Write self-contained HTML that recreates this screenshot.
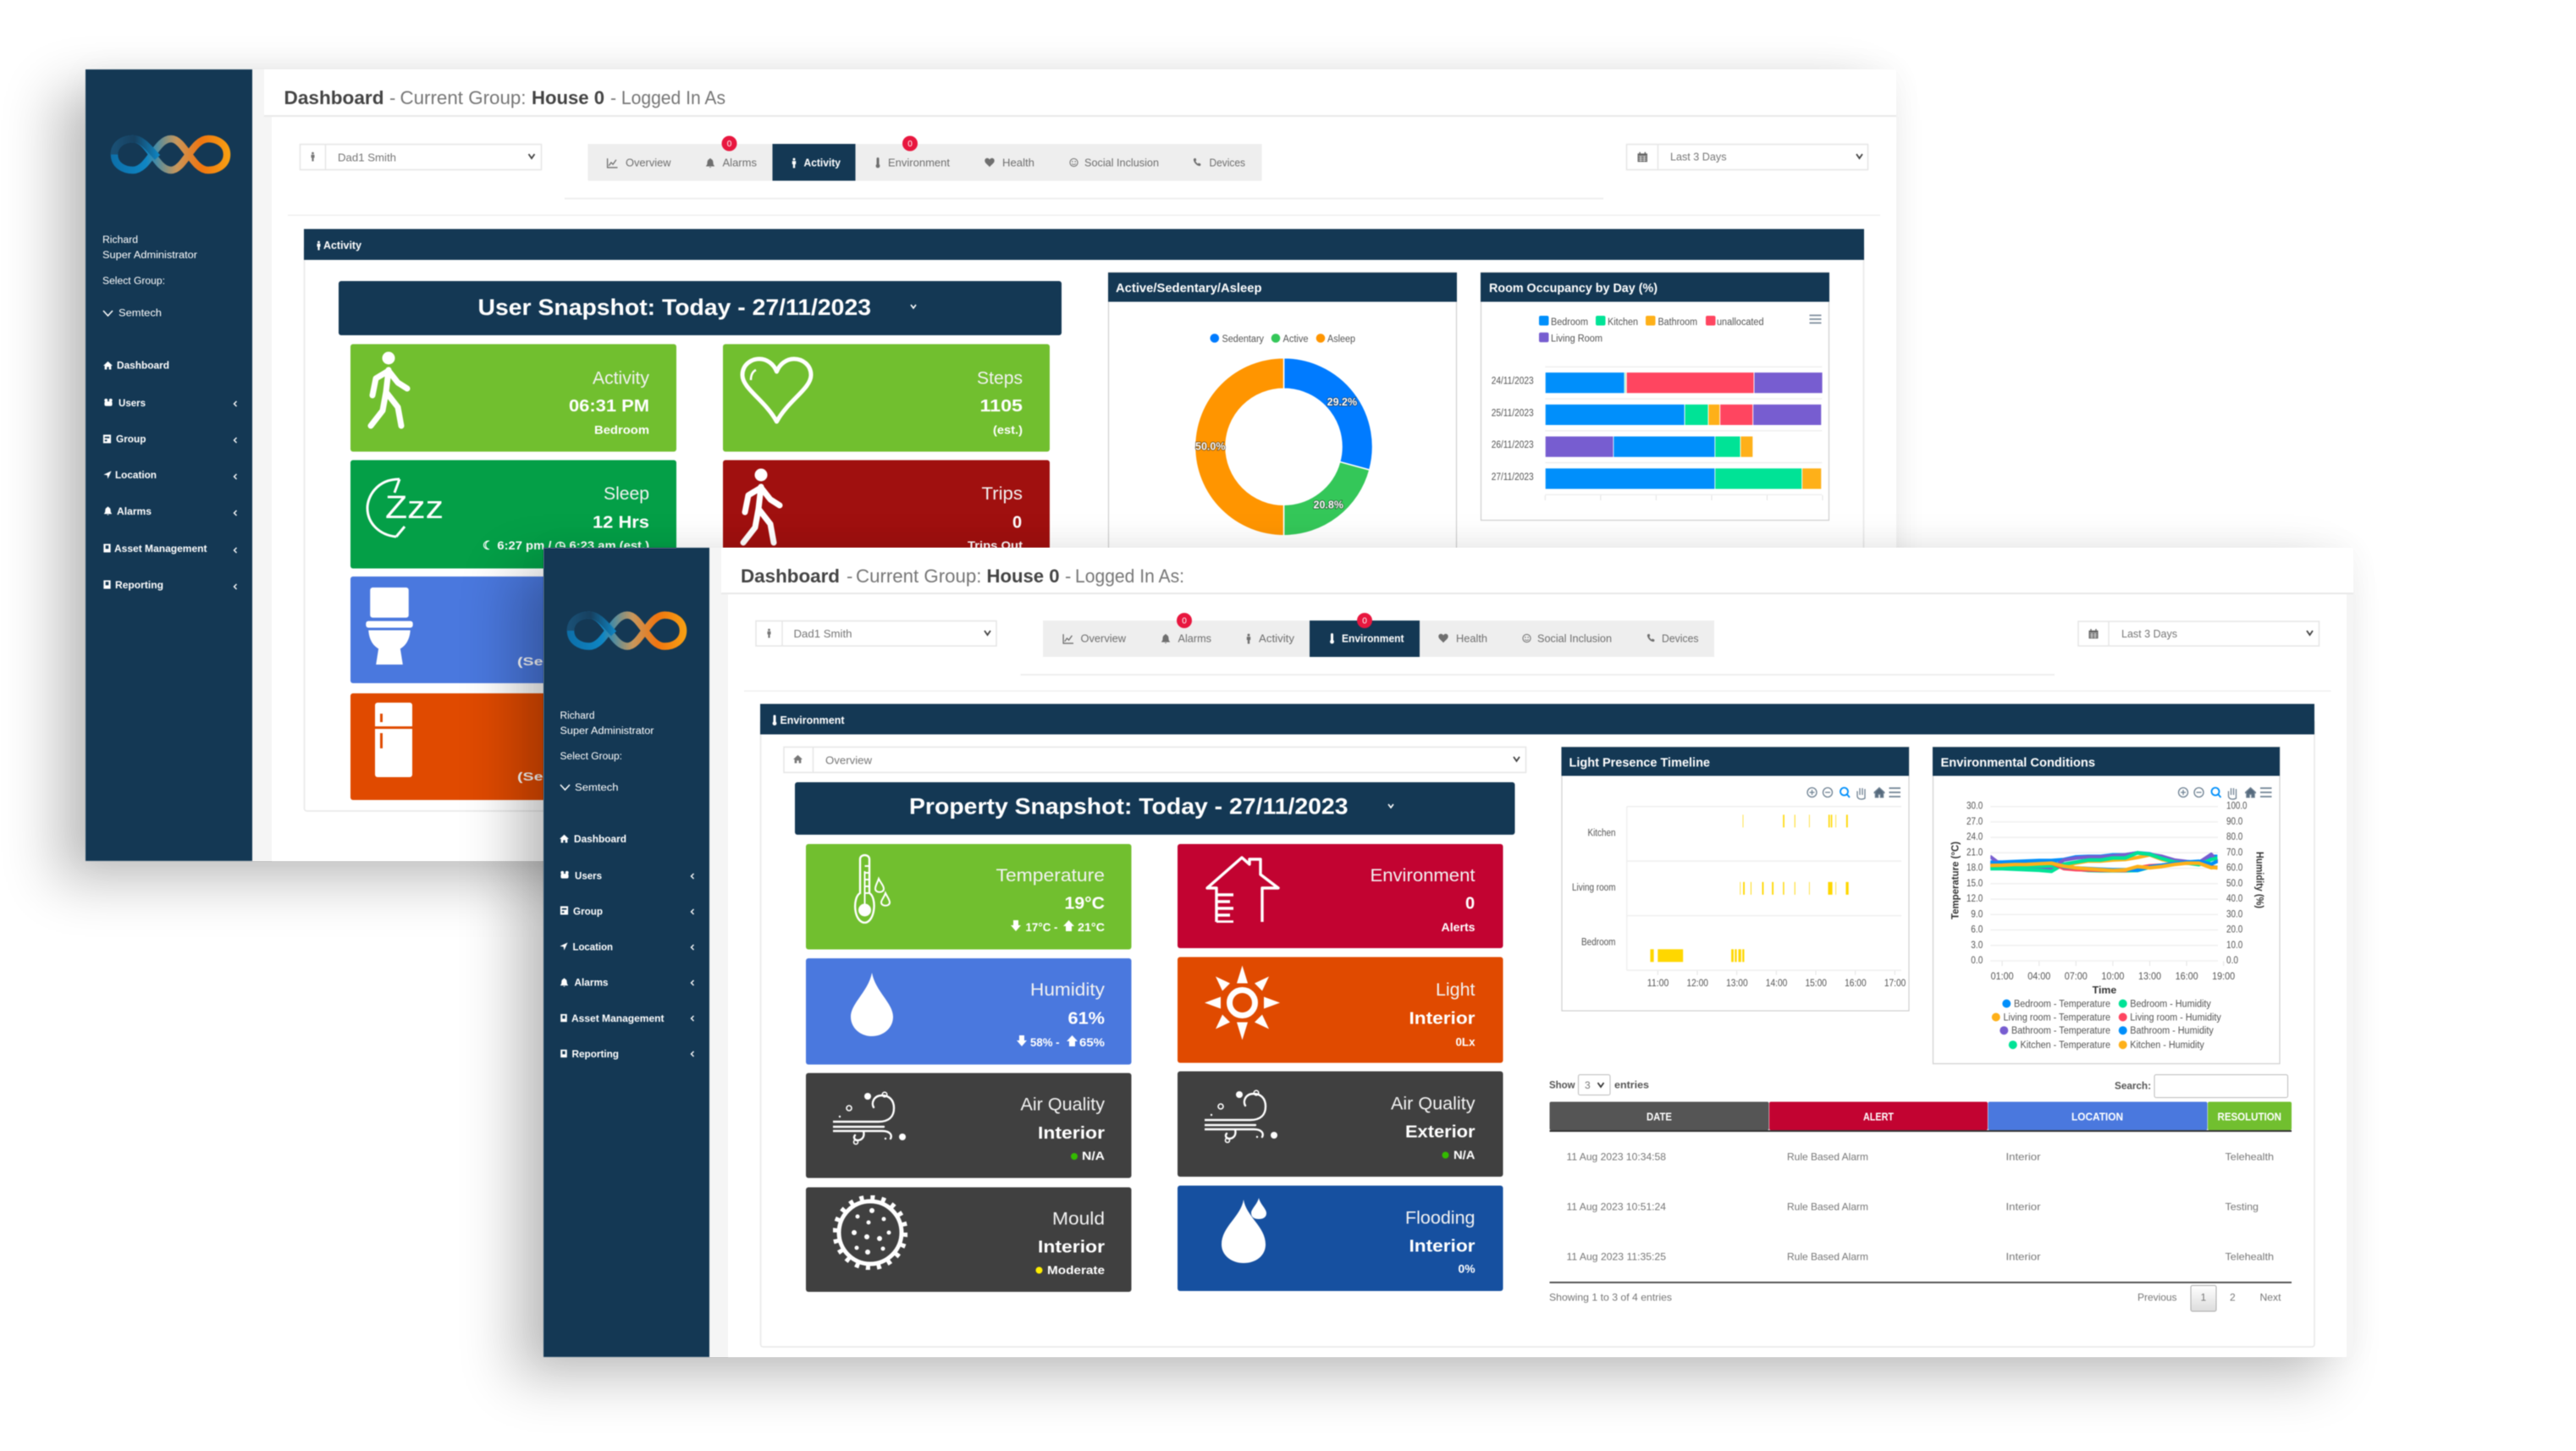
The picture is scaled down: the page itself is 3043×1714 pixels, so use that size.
<!DOCTYPE html>
<html lang="en">
<head>
<meta charset="utf-8">
<title>Dashboard windows</title>
<style>
html,body{margin:0;padding:0;background:#fff}
#page{position:relative;width:3043px;height:1714px;overflow:hidden;background:#fff}
.shadow-box{position:absolute;background:#f5f5f5}
svg.layer{position:absolute;left:0;top:0;filter:blur(.45px)}
text{font-family:"Liberation Sans",sans-serif}
.t-side{font-size:11.5px;font-weight:700;fill:#fff}
.t-user{font-size:11.5px;fill:#fff}
.t-title{font-size:22px;fill:#777}
.t-title-b{font-size:22px;fill:#444;font-weight:700}
.t-tab{font-size:12.5px;fill:#6f6f6f}
.t-tab-on{font-size:12.5px;fill:#fff;font-weight:700}
.t-sel{font-size:13px;fill:#777}
.t-bar{font-size:12.5px;fill:#fff;font-weight:700}
.t-snap{font-size:27px;fill:#fff;font-weight:700}
.t-c1{font-size:21px;fill:#f2f2f2}
.t-c2{font-size:20px;fill:#fff;font-weight:700}
.t-c3{font-size:14px;fill:#fff;font-weight:700}
.t-badge{font-size:10px;fill:#fff;text-anchor:middle}
.t-head{font-size:14.5px;fill:#fff;font-weight:700}
.t-ax{font-size:11.5px;fill:#555}
.t-axb{font-size:11.5px;fill:#333;font-weight:700}
.t-th{font-size:12.5px;fill:#fff;font-weight:700}
.t-td{font-size:12px;fill:#777}
.t-tb{font-size:11.5px;fill:#555;font-weight:700}
</style>
</head>
<body>
<div id="page">

<svg width="0" height="0" style="position:absolute">
  <symbol id="i-chart" viewBox="0 0 12 12"><path d="M1 1V11H12" fill="none" stroke="currentColor" stroke-width="1.2"/><path d="M2.5 9L5 5.5 7 7.5 10.5 2.5" fill="none" stroke="currentColor" stroke-width="1.2"/></symbol>
  <symbol id="i-bell" viewBox="0 0 12 12"><path d="M6 0.5C6.7.5 7 1 7 1.5 9 2 9.5 4 9.5 6 9.5 8 10.5 9 11 9.5V10H1V9.5C1.5 9 2.5 8 2.5 6 2.5 4 3 2 5 1.5 5 1 5.3.5 6 .5ZM4.8 10.6H7.2C7 11.8 5 11.8 4.8 10.6Z" fill="currentColor"/></symbol>
  <symbol id="i-person" viewBox="0 0 12 12"><circle cx="6" cy="1.6" r="1.5" fill="currentColor"/><path d="M3.8 3.6H8.2V7.5H7.2V12H4.8V7.5H3.8Z" fill="currentColor"/></symbol>
  <symbol id="i-thermo" viewBox="0 0 12 12"><path d="M6 1V8" stroke="currentColor" stroke-width="3" stroke-linecap="round" fill="none"/><circle cx="6" cy="9.5" r="2.4" fill="currentColor"/></symbol>
  <symbol id="i-heart" viewBox="0 0 12 12"><path d="M6 11.2C4 8.8.3 6.8.3 3.8.3 2 1.6.8 3.2.8 4.4.8 5.5 1.5 6 2.6 6.5 1.5 7.6.8 8.8.8 10.4.8 11.7 2 11.7 3.8 11.7 6.8 8 8.8 6 11.2Z" fill="currentColor"/></symbol>
  <symbol id="i-smile" viewBox="0 0 12 12"><circle cx="6" cy="6" r="5" fill="none" stroke="currentColor" stroke-width="1.1"/><circle cx="4.2" cy="4.8" r=".8" fill="currentColor"/><circle cx="7.8" cy="4.8" r=".8" fill="currentColor"/><path d="M3.5 7.5C4.5 9 7.5 9 8.5 7.5" fill="none" stroke="currentColor" stroke-width="1"/></symbol>
  <symbol id="i-phone" viewBox="0 0 12 12"><path d="M2 .8L4.2.4 5.2 3.4 3.9 4.4C4.5 6 5.8 7.6 7.3 8.4L8.4 7.2 11.4 8.6 11 10.8C10.4 11.6 9 11.6 7.6 11 4.5 9.6 2 6.6 1.2 3.4.9 2.2 1.2 1.2 2 .8Z" fill="currentColor"/></symbol>
  <symbol id="i-home" viewBox="0 0 12 12"><path d="M6 1L12 6.5H10.2V11.5H7.3V8H4.7V11.5H1.8V6.5H0Z" fill="currentColor"/></symbol>
  <symbol id="i-users" viewBox="0 0 12 12"><circle cx="3" cy="3" r="2.1" fill="currentColor"/><circle cx="9" cy="3" r="2.1" fill="currentColor"/><rect x="1" y="4.5" width="10" height="6" rx="2" fill="currentColor"/></symbol>
  <symbol id="i-form" viewBox="0 0 12 12"><path d="M1 .5H11V11.5H1ZM3 3V5H9V3ZM3 7V9H6V7Z" fill="currentColor" fill-rule="evenodd"/></symbol>
  <symbol id="i-arrow" viewBox="0 0 12 12"><path d="M11.5 .5L6.5 11.5 5.6 6.4.5 5.5Z" fill="currentColor"/></symbol>
  <symbol id="i-book" viewBox="0 0 12 12"><path d="M1.5 .5H10.5V11.5H1.5ZM4 2.5V7H8V2.5Z" fill="currentColor" fill-rule="evenodd"/></symbol>
  <symbol id="i-cal" viewBox="0 0 12 12"><path d="M.5 2H11.5V11.5H.5Z" fill="currentColor"/><path d="M1.5 5H10.5M1.5 7.3H10.5M1.5 9.5H10.5M4 5V11M8 5V11" stroke="#fff" stroke-width=".6"/><path d="M3 .3V2.6M9 .3V2.6" stroke="currentColor" stroke-width="1.4"/></symbol>
  <symbol id="s-walker" viewBox="0 0 54 92"><circle cx="27" cy="8" r="7.5" fill="#fff"/><path d="M27 22L24 48 20 70 6 88M24 48L38 66 42 88M27 23L12 32 8 52M27 23L38 37 49 44" fill="none" stroke="#fff" stroke-width="7" stroke-linecap="round" stroke-linejoin="round"/></symbol>
  <symbol id="s-heart" viewBox="0 0 89 81"><path d="M44.5 77C31 52 4 38 4 22 4 10 14 3 24 3 33 3 41 9 44.5 18 48 9 56 3 65 3 75 3 85 10 85 22 85 38 58 52 44.5 77Z" fill="none" stroke="#fff" stroke-width="5" stroke-linejoin="round"/><path d="M14 28C14 22 16 18 20 16" fill="none" stroke="#fff" stroke-width="2.5"/></symbol>
  <symbol id="s-toilet" viewBox="0 0 58 94"><rect x="6" y="1" width="46" height="36" rx="3" fill="#fff"/><rect x="1" y="41" width="56" height="8" rx="3" fill="#fff"/><path d="M4 52H54C53 66 46 72 42 74L45 93H13L16 74C12 72 5 66 4 52Z" fill="#fff"/></symbol>
  <symbol id="s-fridge" viewBox="0 0 46 90"><rect x="1" y="1" width="44" height="88" rx="3" fill="#fff"/><rect x="1" y="29" width="44" height="3" fill="#e04a00"/><rect x="7" y="14" width="3" height="10" fill="#e04a00"/><rect x="7" y="37" width="3" height="18" fill="#e04a00"/></symbol>
  <symbol id="s-thermo" viewBox="0 0 47 82"><path d="M11 46V6C11 -.5 22 -.5 22 6V46C31 51 29 80 16.500 81 3 80 2 51 11 46Z" fill="none" stroke="#fff" stroke-width="2.4"/><circle cx="16.500" cy="66" r="7.500" fill="#fff"/><path d="M16.500 60V20M16.500 14H22M16.500 22H22M16.500 30H22M16.500 38H22M16.500 46H22" stroke="#fff" stroke-width="2"/><path d="M33 29C36 35 39 37 39 41 39 46 29 46 29 41 29 37 31 35 33 29Z" fill="none" stroke="#fff" stroke-width="2"/><path d="M41 46C44 52 46 54 46 57 46 62 36 62 36 57 36 54 39 52 41 46Z" fill="none" stroke="#fff" stroke-width="2"/></symbol>
  <symbol id="s-house" viewBox="0 0 89 79"><path d="M14 78V38H3L44 2 53 10V4H66V22L87 38H68V78M14 46H34M14 54H30M14 62H34M14 70H30M14 78H34" fill="none" stroke="#fff" stroke-width="3.400" stroke-linejoin="round"/></symbol>
  <symbol id="s-drop" viewBox="0 0 50 75"><path d="M25 0C29 22 50 36 50 52 50 65 39 75 25 75 11 75 0 65 0 52 0 36 21 22 25 0Z" fill="#fff"/></symbol>
  <symbol id="s-sun" viewBox="0 0 89 88"><circle cx="44.500" cy="44" r="15" fill="none" stroke="#fff" stroke-width="7"/><path d="M44.500 0L51 21H38ZM44.500 88L51 67H38ZM0 44L19 37V51ZM89 44L70 37V51ZM13 13L30 21 21 30ZM76 13L68 30 59 21ZM13 75L21 58 30 67ZM76 75L59 67 68 58Z" fill="#fff"/></symbol>
  <symbol id="s-wind" viewBox="0 0 90 64"><path d="M0 36H54C66 36 72 30 72 20 72 10 66 5 58 5 48 5 45 14 48 19M0 42H60M0 47H58C68 47 70 52 68 56M36 47C38 55 33 58 29 58 25 58 24 54 26 52" fill="none" stroke="#fff" stroke-width="2.400" stroke-linecap="round"/><circle cx="41" cy="6" r="4" fill="#fff"/><circle cx="19" cy="20" r="3" fill="none" stroke="#fff" stroke-width="1.600"/><circle cx="61" cy="4" r="2.800" fill="none" stroke="#fff" stroke-width="1.600"/><circle cx="82" cy="54" r="4" fill="#fff"/><circle cx="27" cy="60" r="2.500" fill="none" stroke="#fff" stroke-width="1.600"/><circle cx="62" cy="56" r="1.200" fill="#fff"/><circle cx="8" cy="30" r="1.200" fill="#fff"/></symbol>
  <symbol id="s-mould" viewBox="0 0 88 88"><circle cx="44" cy="44" r="37" fill="none" stroke="#fff" stroke-width="5"/><circle cx="44" cy="44" r="41" fill="none" stroke="#fff" stroke-width="7" stroke-dasharray="5 7.880"/><g fill="#fff"><circle cx="46" cy="18" r="3"/><circle cx="29" cy="25" r="2.500"/><circle cx="60" cy="28" r="2.500"/><circle cx="42" cy="32" r="2.500"/><circle cx="25" cy="44" r="3"/><circle cx="40" cy="49" r="3"/><circle cx="55" cy="51" r="3"/><circle cx="66" cy="44" r="2.500"/><circle cx="28" cy="62" r="2.500"/><circle cx="41" cy="67" r="3"/><circle cx="59" cy="63" r="2.500"/></g></symbol>
  <symbol id="s-flood" viewBox="0 0 54 78"><path d="M26 2C29 22 52 34 52 55 52 68 41 77 26 77 12 77 0 68 0 55 0 34 23 22 26 2Z" fill="#fff"/><path d="M44 0C46 8 53 13 53 18 53 23 49 25 44 25 39 25 35 23 35 18 35 13 42 8 44 0Z" fill="#fff"/></symbol>
  <linearGradient id="logo-grad" gradientUnits="userSpaceOnUse" x1="0" x2="143" y1="0" y2="0"><stop offset="0" stop-color="#0d6ea8"/><stop offset=".3" stop-color="#0f86c4"/><stop offset=".55" stop-color="#c8975c"/><stop offset=".75" stop-color="#f07510"/><stop offset="1" stop-color="#f7a213"/></linearGradient>
  <linearGradient id="logo-dark" gradientUnits="userSpaceOnUse" x1="5" x2="58" y1="0" y2="0"><stop offset="0" stop-color="#1a4f74"/><stop offset=".45" stop-color="#17405f"/><stop offset="1" stop-color="#0f86c4"/></linearGradient>
  <symbol id="s-logo" viewBox="0 0 143 47"><path d="M5 23.500C5 11 16 5 27 5 46 5 54 42 72 42 88 42 97 5 116 5 128 5 138 12 138 23.500 138 35 128 42 116 42 97 42 88 5 72 5 54 5 46 42 27 42 16 42 5 36 5 23.500Z" fill="none" stroke="url(#logo-grad)" stroke-width="8.500"/><path d="M5 23.500C5 11 16 5 27 5 38 5 46 16 56 27" fill="none" stroke="url(#logo-dark)" stroke-width="8.500"/></symbol>
</svg>

<!-- ===================== WINDOW 1 (back) ===================== -->
<div class="shadow-box" style="left:101px;top:82px;width:2139px;height:935px;box-shadow:-35px 25px 60px rgba(0,0,0,.24),0 0 36px rgba(0,0,0,.045)"></div>
<svg class="layer" width="3043" height="1714" viewBox="0 0 3043 1714">
  <rect x="101" y="82" width="197" height="935" fill="#143854"/>
  <rect x="312" y="82" width="1928" height="54" fill="#fff"/>
  <rect x="312" y="136" width="1928" height="2" fill="#e8e8e8"/>
  <rect x="321" y="138" width="1919" height="879" fill="#fff"/>

  <use href="#s-logo" x="130" y="159" width="143" height="47"/>
  <text x="121" y="287" textLength="42" class="t-user">Richard</text>
  <text x="121" y="305" textLength="112" class="t-user">Super Administrator</text>
  <text x="121" y="335.500" textLength="74" class="t-user">Select Group:</text>
  <polyline points="122,367 127.500,373 133,367" fill="none" stroke="#fff" stroke-width="1.500"/>
  <text x="140" y="373.500" textLength="51" class="t-user">Semtech</text>
  <g style="color:#fff">
    <use href="#i-home" x="122" y="426" width="11" height="11"/>
    <text x="138" y="435.500" textLength="62" class="t-side">Dashboard</text>
    <use href="#i-users" x="122" y="470" width="12" height="11"/>
    <text x="140" y="480" textLength="32" class="t-side">Users</text>
    <polyline points="279.500,474 276.500,477 279.500,480" fill="none" stroke="#fff" stroke-width="1.400"/>
    <use href="#i-form" x="121" y="513" width="11" height="11"/>
    <text x="137" y="522.500" textLength="35.500" class="t-side">Group</text>
    <polyline points="279.500,517 276.500,520 279.500,523" fill="none" stroke="#fff" stroke-width="1.400"/>
    <use href="#i-arrow" x="122" y="556" width="10" height="10"/>
    <text x="136" y="565" textLength="49" class="t-side">Location</text>
    <polyline points="279.500,560 276.500,563 279.500,566" fill="none" stroke="#fff" stroke-width="1.400"/>
    <use href="#i-bell" x="122" y="598" width="11" height="11"/>
    <text x="138" y="608" textLength="41" class="t-side">Alarms</text>
    <polyline points="279.500,603 276.500,606 279.500,609" fill="none" stroke="#fff" stroke-width="1.400"/>
    <use href="#i-book" x="121" y="642" width="11" height="11"/>
    <text x="135" y="652" textLength="109.500" class="t-side">Asset Management</text>
    <polyline points="279.500,647 276.500,650 279.500,653" fill="none" stroke="#fff" stroke-width="1.400"/>
    <use href="#i-book" x="121" y="685" width="11" height="11"/>
    <text x="136" y="695" textLength="57" class="t-side">Reporting</text>
    <polyline points="279.500,690 276.500,693 279.500,696" fill="none" stroke="#fff" stroke-width="1.400"/>
  </g>

  <text x="335.500" y="123" textLength="118" class="t-title-b">Dashboard</text>
  <text x="460" y="123" class="t-title">-</text>
  <text x="472.500" y="123" textLength="149" class="t-title">Current Group:</text>
  <text x="628" y="123" textLength="86" class="t-title-b">House 0</text>
  <text x="721" y="123" textLength="136" class="t-title">- Logged In As</text>

  <rect x="354.500" y="170.500" width="285" height="30" fill="#fff" stroke="#e6e6e6" stroke-width="1.500"/>
  <line x1="384.500" x2="384.500" y1="170" y2="201" stroke="#e6e6e6" stroke-width="1.500"/>
  <use href="#i-person" x="364" y="179" width="11" height="12" style="color:#777"/>
  <text x="399" y="190.500" textLength="69" class="t-sel">Dad1 Smith</text>
  <polyline points="624.500,182 628,187 631.500,182" fill="none" stroke="#444" stroke-width="1.800"/>

  <rect x="694.500" y="170" width="796" height="43.500" fill="#eeeeee"/>
  <rect x="912.500" y="170" width="98" height="43.500" fill="#143854"/>
  <g style="color:#6f6f6f">
    <use href="#i-chart" x="716" y="186" width="14" height="13"/>
    <text x="739" y="196.500" textLength="53.500" class="t-tab">Overview</text>
    <use href="#i-bell" x="833" y="186" width="12" height="13"/>
    <text x="853.500" y="196.500" textLength="40.500" class="t-tab">Alarms</text>
    <use href="#i-person" x="932" y="186" width="12" height="13" style="color:#fff"/>
    <text x="949.500" y="196.500" textLength="43.500" class="t-tab-on">Activity</text>
    <use href="#i-thermo" x="1031" y="186" width="12" height="13"/>
    <text x="1049" y="196.500" textLength="73" class="t-tab">Environment</text>
    <use href="#i-heart" x="1163" y="186" width="12" height="12"/>
    <text x="1184" y="196.500" textLength="38" class="t-tab">Health</text>
    <use href="#i-smile" x="1263" y="186" width="11" height="12"/>
    <text x="1281" y="196.500" textLength="88" class="t-tab">Social Inclusion</text>
    <use href="#i-phone" x="1409" y="186" width="10" height="11"/>
    <text x="1428.500" y="196.500" textLength="42.500" class="t-tab">Devices</text>
  </g>
  <circle cx="861.500" cy="169.500" r="9" fill="#e8173f"/>
  <text x="861.500" y="173" class="t-badge">0</text>
  <circle cx="1075" cy="169.500" r="9" fill="#e8173f"/>
  <text x="1075" y="173" class="t-badge">0</text>
  <rect x="1921.500" y="170.500" width="285" height="30" fill="#fff" stroke="#e6e6e6" stroke-width="1.500"/>
  <line x1="1958.500" x2="1958.500" y1="170" y2="201" stroke="#e6e6e6" stroke-width="1.500"/>
  <use href="#i-cal" x="1934" y="179" width="12.500" height="13" style="color:#666"/>
  <text x="1973" y="189.500" textLength="66.500" class="t-sel">Last 3 Days</text>
  <polyline points="2193,182 2196.500,187 2200,182" fill="none" stroke="#444" stroke-width="1.800"/>
  <rect x="667" y="233.500" width="1227" height="2" fill="#efefef"/>
  <rect x="340" y="253.500" width="1881" height="1.500" fill="#efefef"/>

  <rect x="359.500" y="290" width="1842" height="668" rx="3" fill="#fff" stroke="#e8e8e8" stroke-width="1.500"/>
  <rect x="359" y="270.500" width="1843" height="36.500" fill="#143854"/>
  <use href="#i-person" x="371" y="283" width="11" height="14" style="color:#fff"/>
  <text x="382" y="294" textLength="45" class="t-bar">Activity</text>

  <rect x="400" y="332" width="854" height="64" rx="3" fill="#143854"/>
  <text x="564.500" y="372" textLength="464.500" class="t-snap">User Snapshot: Today - 27/11/2023</text>
  <polyline points="1076,360 1079,364 1082,360" fill="none" stroke="#fff" stroke-width="1.600"/>

  <rect x="414" y="406.500" width="385" height="127" rx="3" fill="#71bf2f"/>
  <use href="#s-walker" x="432" y="415" width="54" height="92"/>
  <text x="700" y="453.500" textLength="67" class="t-c1">Activity</text>
  <text x="672" y="486" textLength="95" class="t-c2">06:31 PM</text>
  <text x="702" y="512.500" textLength="65" class="t-c3">Bedroom</text>

  <rect x="854" y="406.500" width="386" height="127" rx="3" fill="#71bf2f"/>
  <use href="#s-heart" x="873" y="421" width="89" height="81"/>
  <text x="1154" y="453.500" textLength="54" class="t-c1">Steps</text>
  <text x="1157.500" y="486" textLength="50.500" class="t-c2">1105</text>
  <text x="1173" y="512.500" textLength="35" class="t-c3">(est.)</text>

  <rect x="414" y="543.500" width="385" height="128" rx="3" fill="#049f47"/>
  <path d="M472 566C444 566 434 588 434 600 434 618 448 632 468 634 M468 634L478 622 M472 566L466 582" fill="none" stroke="#fff" stroke-width="3"/>
  <text x="455" y="612" textLength="69" style="font-size:38px;fill:#fff">Zzz</text>
  <text x="713" y="590" textLength="54" class="t-c1">Sleep</text>
  <text x="700" y="623.500" textLength="67" class="t-c2">12 Hrs</text>
  <text x="570" y="649" textLength="197" class="t-c3">☾ 6:27 pm / ◷ 6:23 am (est.)</text>

  <rect x="854" y="543.500" width="386" height="128" rx="3" fill="#a0100f"/>
  <use href="#s-walker" x="872" y="553" width="54" height="92"/>
  <text x="1159.500" y="590" textLength="48.500" class="t-c1">Trips</text>
  <text x="1196" y="623.500" class="t-c2">0</text>
  <text x="1143" y="649" textLength="65" class="t-c3">Trips Out</text>

  <rect x="414" y="681" width="385" height="126" rx="3" fill="#4a78de"/>
  <use href="#s-toilet" x="431" y="693" width="58" height="93"/>
  <text x="611" y="786" textLength="60" class="t-c3">(Seen)</text>
  <rect x="414" y="819" width="385" height="126" rx="3" fill="#e04a00"/>
  <use href="#s-fridge" x="442" y="829" width="46" height="90"/>
  <text x="611" y="922" textLength="60" class="t-c3">(Seen)</text>

  <g>
    <rect x="1309.500" y="322" width="411" height="640" fill="#fff" stroke="#cfcfcf" stroke-width="1.200"/>
    <rect x="1309" y="322" width="412" height="34.500" fill="#143854"/>
    <text x="1318" y="345" textLength="172.500" class="t-head">Active/Sedentary/Asleep</text>
    <g id="donut-layer"></g>
  </g>
  <g>
    <rect x="1749.500" y="322" width="411" height="292.500" fill="#fff" stroke="#cfcfcf" stroke-width="1.200"/>
    <rect x="1749" y="322" width="412" height="34.500" fill="#143854"/>
    <text x="1759" y="345" textLength="199" class="t-head">Room Occupancy by Day (%)</text>
    <g id="occupancy-layer"></g>
    <path d="M2137.500 372.500H2151.500M2137.500 377H2151.500M2137.500 381.500H2151.500" stroke="#7d8c9c" stroke-width="1.700"/>
  </g>
</svg>

<!-- ===================== WINDOW 2 (front) ===================== -->
<div class="shadow-box" style="left:642px;top:647px;width:2138px;height:956px;box-shadow:-35px 25px 60px rgba(0,0,0,.24),0 0 36px rgba(0,0,0,.045)"></div>
<svg class="layer" width="3043" height="1714" viewBox="0 0 3043 1714">
  <rect x="642" y="647" width="196" height="956" fill="#143854"/>
  <rect x="852" y="647" width="1928" height="53" fill="#fff"/>
  <rect x="852" y="700" width="1928" height="2" fill="#e8e8e8"/>
  <rect x="860" y="702" width="1912" height="901" fill="#fff"/>

  <use href="#s-logo" x="669" y="721.500" width="143" height="47"/>
  <text x="661.500" y="849" textLength="41" class="t-user">Richard</text>
  <text x="661.500" y="867" textLength="111" class="t-user">Super Administrator</text>
  <text x="661.500" y="897" textLength="73.500" class="t-user">Select Group:</text>
  <polyline points="662,927 667.500,933 673,927" fill="none" stroke="#fff" stroke-width="1.500"/>
  <text x="679" y="934" textLength="51.500" class="t-user">Semtech</text>
  <g style="color:#fff">
    <use href="#i-home" x="661" y="985" width="11" height="11"/>
    <text x="678" y="995" textLength="62" class="t-side">Dashboard</text>
    <use href="#i-users" x="661" y="1028" width="12" height="11"/>
    <text x="679" y="1038.500" textLength="32" class="t-side">Users</text>
    <polyline points="819.500,1032 816.500,1035 819.500,1038" fill="none" stroke="#fff" stroke-width="1.400"/>
    <use href="#i-form" x="661" y="1070" width="11" height="11"/>
    <text x="677" y="1080.500" textLength="35" class="t-side">Group</text>
    <polyline points="819.500,1074 816.500,1077 819.500,1080" fill="none" stroke="#fff" stroke-width="1.400"/>
    <use href="#i-arrow" x="661" y="1113" width="10" height="10"/>
    <text x="676.500" y="1122.500" textLength="47.500" class="t-side">Location</text>
    <polyline points="819.500,1116 816.500,1119 819.500,1122" fill="none" stroke="#fff" stroke-width="1.400"/>
    <use href="#i-bell" x="661" y="1155" width="11" height="11"/>
    <text x="678.500" y="1164.500" textLength="40" class="t-side">Alarms</text>
    <polyline points="819.500,1158 816.500,1161 819.500,1164" fill="none" stroke="#fff" stroke-width="1.400"/>
    <use href="#i-book" x="661" y="1197" width="10" height="11"/>
    <text x="675" y="1207" textLength="109.500" class="t-side">Asset Management</text>
    <polyline points="819.500,1200 816.500,1203 819.500,1206" fill="none" stroke="#fff" stroke-width="1.400"/>
    <use href="#i-book" x="661" y="1239" width="10" height="11"/>
    <text x="675.500" y="1249" textLength="55.500" class="t-side">Reporting</text>
    <polyline points="819.500,1242 816.500,1245 819.500,1248" fill="none" stroke="#fff" stroke-width="1.400"/>
  </g>

  <text x="875" y="688" textLength="117" class="t-title-b">Dashboard</text>
  <text x="1000" y="688" class="t-title">-</text>
  <text x="1011" y="688" textLength="148.500" class="t-title">Current Group:</text>
  <text x="1165.500" y="688" textLength="86" class="t-title-b">House 0</text>
  <text x="1258" y="688" class="t-title">-</text>
  <text x="1270" y="688" textLength="129" class="t-title">Logged In As:</text>

  <rect x="893" y="733.500" width="284" height="29.500" fill="#fff" stroke="#e6e6e6" stroke-width="1.500"/>
  <line x1="924" x2="924" y1="733" y2="763" stroke="#e6e6e6" stroke-width="1.500"/>
  <use href="#i-person" x="903" y="742" width="11" height="12" style="color:#777"/>
  <text x="937.500" y="753" textLength="69" class="t-sel">Dad1 Smith</text>
  <polyline points="1163,745 1166.500,750 1170,745" fill="none" stroke="#444" stroke-width="1.800"/>

  <rect x="1232" y="733" width="793" height="43" fill="#eeeeee"/>
  <rect x="1547" y="733" width="130" height="43" fill="#143854"/>
  <g style="color:#6f6f6f">
    <use href="#i-chart" x="1254.500" y="748" width="14" height="13"/>
    <text x="1276.500" y="758.500" textLength="53.500" class="t-tab">Overview</text>
    <use href="#i-bell" x="1371" y="748" width="12" height="13"/>
    <text x="1391.500" y="758.500" textLength="39.500" class="t-tab">Alarms</text>
    <use href="#i-person" x="1469" y="748" width="12" height="13"/>
    <text x="1487" y="758.500" textLength="42" class="t-tab">Activity</text>
    <use href="#i-thermo" x="1567.500" y="748" width="12" height="13" style="color:#fff"/>
    <text x="1585" y="758.500" textLength="73.500" class="t-tab-on">Environment</text>
    <use href="#i-heart" x="1699" y="748" width="12" height="12"/>
    <text x="1720" y="758.500" textLength="37" class="t-tab">Health</text>
    <use href="#i-smile" x="1798" y="748" width="11" height="12"/>
    <text x="1816" y="758.500" textLength="88" class="t-tab">Social Inclusion</text>
    <use href="#i-phone" x="1945" y="748" width="10" height="11"/>
    <text x="1963" y="758.500" textLength="43.500" class="t-tab">Devices</text>
  </g>
  <circle cx="1399" cy="733" r="9" fill="#e8173f"/>
  <text x="1399" y="736.500" class="t-badge">0</text>
  <circle cx="1612" cy="733" r="9" fill="#e8173f"/>
  <text x="1612" y="736.500" class="t-badge">0</text>

  <rect x="2455" y="734" width="284.500" height="29" fill="#fff" stroke="#e6e6e6" stroke-width="1.500"/>
  <line x1="2491" x2="2491" y1="733.500" y2="763" stroke="#e6e6e6" stroke-width="1.500"/>
  <use href="#i-cal" x="2467" y="742.500" width="12" height="12.500" style="color:#666"/>
  <text x="2506" y="753" textLength="66" class="t-sel">Last 3 Days</text>
  <polyline points="2725,745 2728.500,750 2732,745" fill="none" stroke="#444" stroke-width="1.800"/>
  <rect x="1205.500" y="796" width="1221.500" height="2" fill="#efefef"/>
  <rect x="879" y="815.500" width="1874.500" height="1.500" fill="#efefef"/>

  <rect x="898.500" y="850" width="1835.500" height="741" rx="3" fill="#fff" stroke="#e8e8e8" stroke-width="1.500"/>
  <rect x="898" y="831.500" width="1836" height="36" fill="#143854"/>
  <use href="#i-thermo" x="909" y="844" width="12" height="14" style="color:#fff"/>
  <text x="921.500" y="855" textLength="76" class="t-bar">Environment</text>

  <rect x="926" y="882.500" width="876.500" height="30" fill="#fff" stroke="#e6e6e6" stroke-width="1.500"/>
  <line x1="960.500" x2="960.500" y1="882" y2="912.500" stroke="#e6e6e6" stroke-width="1.500"/>
  <use href="#i-home" x="937" y="891" width="11" height="11" style="color:#777"/>
  <text x="975" y="902.500" textLength="55" class="t-sel">Overview</text>
  <polyline points="1788,894 1791.500,899 1795,894" fill="none" stroke="#444" stroke-width="1.800"/>

  <rect x="939" y="924" width="850.500" height="62" rx="3" fill="#143854"/>
  <text x="1074" y="961.500" textLength="518.500" class="t-snap">Property Snapshot: Today - 27/11/2023</text>
  <polyline points="1640,950 1643,954 1646,950" fill="none" stroke="#fff" stroke-width="1.600"/>

  <!-- temperature -->
  <rect x="952" y="997" width="384.500" height="124.500" rx="3" fill="#71bf2f"/>
  <use href="#s-thermo" x="1005" y="1009" width="47" height="82"/>
  <text x="1176.500" y="1041" textLength="128.500" class="t-c1">Temperature</text>
  <text x="1257.500" y="1073.500" textLength="47.500" class="t-c2">19°C</text>
  <path d="M1197 1087V1093H1194L1200 1100 1206 1093H1203V1087Z" fill="#fff"/>
  <text x="1211.500" y="1100" textLength="38" class="t-c3">17°C -</text>
  <path d="M1259 1100V1094H1256L1262.500 1087 1269 1094H1266V1100Z" fill="#fff"/>
  <text x="1273" y="1100" textLength="32" class="t-c3">21°C</text>

  <!-- environment -->
  <rect x="1391" y="997" width="384.500" height="123" rx="3" fill="#c20331"/>
  <use href="#s-house" x="1423" y="1011" width="89" height="79"/>
  <text x="1618.500" y="1041" textLength="124" class="t-c1">Environment</text>
  <text x="1731" y="1073.500" class="t-c2">0</text>
  <text x="1702.500" y="1100" textLength="40" class="t-c3">Alerts</text>

  <!-- humidity -->
  <rect x="952" y="1132" width="384.500" height="125.500" rx="3" fill="#4a78de"/>
  <use href="#s-drop" x="1005" y="1149" width="50" height="75"/>
  <text x="1217" y="1176" textLength="88" class="t-c1">Humidity</text>
  <text x="1261.500" y="1209.500" textLength="43.500" class="t-c2">61%</text>
  <path d="M1204 1223V1229H1201L1207 1236 1213 1229H1210V1223Z" fill="#fff"/>
  <text x="1217" y="1236" textLength="34.500" class="t-c3">58% -</text>
  <path d="M1263 1236V1230H1260L1266.500 1223 1273 1230H1270V1236Z" fill="#fff"/>
  <text x="1275" y="1236" textLength="30" class="t-c3">65%</text>

  <!-- light -->
  <rect x="1391" y="1130.500" width="384.500" height="125" rx="3" fill="#e04a00"/>
  <use href="#s-sun" x="1423" y="1140.500" width="89" height="88"/>
  <text x="1696" y="1176" textLength="46.500" class="t-c1">Light</text>
  <text x="1664.500" y="1209.500" textLength="78" class="t-c2">Interior</text>
  <text x="1719.500" y="1235.500" textLength="23" class="t-c3">0Lx</text>

  <!-- air quality interior -->
  <rect x="952" y="1267.500" width="384.500" height="124" rx="3" fill="#404040"/>
  <use href="#s-wind" x="984" y="1289" width="90" height="64"/>
  <text x="1205.500" y="1311.500" textLength="99.500" class="t-c1">Air Quality</text>
  <text x="1226" y="1345" textLength="79" class="t-c2">Interior</text>
  <circle cx="1269" cy="1366" r="4" fill="#33bb00"/>
  <text x="1278" y="1370" textLength="27" class="t-c3">N/A</text>

  <!-- air quality exterior -->
  <rect x="1391" y="1265.500" width="384.500" height="124.500" rx="3" fill="#404040"/>
  <use href="#s-wind" x="1423" y="1287" width="90" height="64"/>
  <text x="1643" y="1310.500" textLength="99.500" class="t-c1">Air Quality</text>
  <text x="1660" y="1343.500" textLength="82.500" class="t-c2">Exterior</text>
  <circle cx="1707.500" cy="1364.500" r="4" fill="#33bb00"/>
  <text x="1717" y="1369" textLength="25.500" class="t-c3">N/A</text>

  <!-- mould -->
  <rect x="952" y="1402.500" width="384.500" height="123.500" rx="3" fill="#404040"/>
  <use href="#s-mould" x="984" y="1412" width="88" height="88"/>
  <text x="1243" y="1446.500" textLength="62" class="t-c1">Mould</text>
  <text x="1226" y="1479.500" textLength="79" class="t-c2">Interior</text>
  <circle cx="1227.500" cy="1500.500" r="4" fill="#ffee00"/>
  <text x="1237" y="1505" textLength="68" class="t-c3">Moderate</text>

  <!-- flooding -->
  <rect x="1391" y="1400.500" width="384.500" height="124.500" rx="3" fill="#1650a0"/>
  <use href="#s-flood" x="1443" y="1415" width="54" height="78"/>
  <text x="1660" y="1445.500" textLength="82.500" class="t-c1">Flooding</text>
  <text x="1664.500" y="1478.500" textLength="78" class="t-c2">Interior</text>
  <text x="1722.500" y="1503.500" textLength="20" class="t-c3">0%</text>

  <!-- Light presence -->
  <g>
    <rect x="1845" y="882.500" width="410" height="311.500" fill="#fff" stroke="#cfcfcf" stroke-width="1.200"/>
    <rect x="1844.500" y="882.500" width="410.500" height="34" fill="#143854"/>
    <text x="1853.500" y="905.500" textLength="166.500" class="t-head">Light Presence Timeline</text>
    <g id="timeline-layer"></g>
    <g fill="none" stroke="#6e8192" stroke-width="1.300">
      <g><circle cx="2140.500" cy="936" r="5.500"/><path d="M2137.500 936H2143.500M2140.500 933V939"/></g>
      <g><circle cx="2159" cy="936" r="5.500"/><path d="M2156 936H2162"/></g>
      <g stroke="#008ffb" stroke-width="1.800"><circle cx="2178.500" cy="935" r="4.500"/><path d="M2182 938.500L2185 942"/></g>
      <path d="M2194 941V934.500M2197 939V931M2200 939V931M2203 939V932M2194 941C2195 944 2199 945 2203 943V936"/>
      <use href="#i-home" x="2213.500" y="929.500" width="13" height="13" style="color:#55697c"/>
      <path d="M2231.500 931H2245M2231.500 936H2245M2231.500 941H2245" stroke-width="1.800"/>
    </g>
  </g>

  <!-- Environmental conditions -->
  <g>
    <rect x="2283.500" y="882.500" width="409.500" height="374" fill="#fff" stroke="#cfcfcf" stroke-width="1.200"/>
    <rect x="2283" y="882.500" width="410" height="34" fill="#143854"/>
    <text x="2292.500" y="905.500" textLength="182.500" class="t-head">Environmental Conditions</text>
    <g id="env-layer"></g>
    <g fill="none" stroke="#6e8192" stroke-width="1.300">
      <g><circle cx="2579" cy="936" r="5.500"/><path d="M2576 936H2582M2579 933V939"/></g>
      <g><circle cx="2597.500" cy="936" r="5.500"/><path d="M2594.500 936H2600.500"/></g>
      <g stroke="#008ffb" stroke-width="1.800"><circle cx="2617" cy="935" r="4.500"/><path d="M2620.500 938.500L2623.500 942"/></g>
      <path d="M2632.500 941V934.500M2635.500 939V931M2638.500 939V931M2641.500 939V932M2632.500 941C2633.500 944 2637.500 945 2641.500 943V936"/>
      <use href="#i-home" x="2652" y="929.500" width="13" height="13" style="color:#55697c"/>
      <path d="M2670 931H2683.500M2670 936H2683.500M2670 941H2683.500" stroke-width="1.800"/>
    </g>
  </g>

  <!-- Table -->
  <g>
    <text x="1830" y="1285.500" textLength="30.500" class="t-tb">Show</text>
    <rect x="1864.500" y="1269.500" width="37.500" height="24" rx="2" fill="#fff" stroke="#bbb"/>
    <text x="1872" y="1286" class="t-td">3</text>
    <polyline points="1887.500,1279 1891,1284 1894.500,1279" fill="none" stroke="#333" stroke-width="1.700"/>
    <text x="1907" y="1285.500" textLength="41" class="t-tb">entries</text>
    <text x="2498" y="1286.500" textLength="43" class="t-tb">Search:</text>
    <rect x="2545" y="1269.500" width="157.500" height="27" rx="2" fill="#fff" stroke="#bbb"/>

    <rect x="1830.500" y="1301.500" width="259" height="33.500" rx="2" fill="#555"/>
    <rect x="2090" y="1301.500" width="258" height="33.500" rx="2" fill="#c20331"/>
    <rect x="2348.500" y="1301.500" width="259" height="33.500" rx="2" fill="#4a78de"/>
    <rect x="2608" y="1301.500" width="99" height="33.500" rx="2" fill="#71bf2f"/>
    <rect x="1830.500" y="1335" width="876.500" height="2" fill="#333"/>
    <text x="1945" y="1323.500" textLength="30" class="t-th">DATE</text>
    <text x="2201" y="1323.500" textLength="36" class="t-th">ALERT</text>
    <text x="2447" y="1323.500" textLength="61" class="t-th">LOCATION</text>
    <text x="2619.500" y="1323.500" textLength="75.500" class="t-th">RESOLUTION</text>

    <text x="1850.500" y="1370.500" textLength="117.500" class="t-td">11 Aug 2023 10:34:58</text>
    <text x="2111" y="1370.500" textLength="96" class="t-td">Rule Based Alarm</text>
    <text x="2369.500" y="1370.500" textLength="41" class="t-td">Interior</text>
    <text x="2628.500" y="1370.500" textLength="57.500" class="t-td">Telehealth</text>

    <text x="1850.500" y="1429.500" textLength="117.500" class="t-td">11 Aug 2023 10:51:24</text>
    <text x="2111" y="1429.500" textLength="96" class="t-td">Rule Based Alarm</text>
    <text x="2369.500" y="1429.500" textLength="41" class="t-td">Interior</text>
    <text x="2628.500" y="1429.500" textLength="39.500" class="t-td">Testing</text>

    <text x="1850.500" y="1488.500" textLength="117.500" class="t-td">11 Aug 2023 11:35:25</text>
    <text x="2111" y="1488.500" textLength="96" class="t-td">Rule Based Alarm</text>
    <text x="2369.500" y="1488.500" textLength="41" class="t-td">Interior</text>
    <text x="2628.500" y="1488.500" textLength="57.500" class="t-td">Telehealth</text>

    <rect x="1830.500" y="1514" width="876.500" height="1.800" fill="#444"/>
    <text x="1830" y="1536.500" textLength="145" class="t-td">Showing 1 to 3 of 4 entries</text>
    <text x="2525" y="1536.500" textLength="46.500" class="t-td">Previous</text>
    <linearGradient id="page-btn" x1="0" x2="0" y1="0" y2="1"><stop offset="0" stop-color="#fff"/><stop offset="1" stop-color="#dcdcdc"/></linearGradient>
    <rect x="2588" y="1518.500" width="30" height="30.500" rx="2" fill="url(#page-btn)" stroke="#aaa"/>
    <text x="2599.500" y="1536.500" class="t-td">1</text>
    <text x="2634" y="1536.500" class="t-td">2</text>
    <text x="2669.500" y="1536.500" textLength="25" class="t-td">Next</text>
  </g>
</svg>
</div>

<script>
/* ---------- Active / Sedentary / Asleep donut ---------- */
const donutLabels = ['Sedentary', 'Active', 'Asleep'];
const donutValues = [29.2, 20.8, 50.0];
const donutColors = ['#007bff', '#34c759', '#ff9500'];

/* ---------- Room occupancy by day ---------- */
const occupancyDays = ['24/11/2023', '25/11/2023', '26/11/2023', '27/11/2023'];
const occupancyLivingFirst = [0, 0, 24.6, 0];
const occupancyBedroom = [28.6, 50.3, 36.6, 61.2];
const occupancyKitchen = [0.4, 8.5, 9.2, 31.4];
const occupancyBathroom = [0.3, 4.2, 4.5, 7.0];
const occupancyUnallocated = [46.0, 11.9, 0, 0];
const occupancyLivingRoom = [24.7, 24.7, 0, 0];

/* ---------- Light presence timeline (hours of day) ---------- */
const timelineRooms = ['Kitchen', 'Living room', 'Bedroom'];
const timelineTicks = ['11:00', '12:00', '13:00', '14:00', '15:00', '16:00', '17:00'];
const kitchenStarts = [13.15, 14.17, 14.46, 14.83, 15.32, 15.38, 15.5, 15.77];
const kitchenEnds = [13.165, 14.205, 14.48, 14.845, 15.355, 15.415, 15.515, 15.81];
const livingStarts = [13.08, 13.16, 13.35, 13.64, 13.89, 14.17, 14.46, 14.83, 15.31, 15.5, 15.76];
const livingEnds = [13.095, 13.2, 13.37, 13.68, 13.93, 14.2, 14.48, 14.845, 15.42, 15.515, 15.83];
const bedroomStarts = [10.81, 11.0, 12.86, 12.95, 13.04, 13.14];
const bedroomEnds = [10.9, 11.64, 12.92, 13.0, 13.11, 13.19];

/* ---------- Environmental conditions ---------- */
const envHours = [0, 1, 2, 3, 4, 5, 6, 7, 8, 9, 10, 11, 12, 13, 14, 15, 16, 17, 18, 18.5];
const tempTicks = ['0.0', '3.0', '6.0', '9.0', '12.0', '15.0', '18.0', '21.0', '24.0', '27.0', '30.0'];
const humidityTicks = ['0.0', '10.0', '20.0', '30.0', '40.0', '50.0', '60.0', '70.0', '80.0', '90.0', '100.0'];
const envTimeTicks = ['01:00', '04:00', '07:00', '10:00', '13:00', '16:00', '19:00'];
const bedroomTemperature = [19.2, 19.2, 19.3, 19.4, 19.5, 19.5, 19.7, 20.2, 20.3, 20.3, 20.6, 20.6, 21.0, 20.8, 20.0, 19.4, 19.2, 19.2, 20.3, 20.3];
const bedroomHumidity = [60.3, 60.7, 60.9, 61.3, 61.3, 61.6, 60.9, 59.4, 58.5, 58.3, 58.3, 58.3, 58.5, 60.7, 61.3, 62.7, 63.4, 63.1, 60.9, 60.5];
const livingTemperature = [18.4, 18.5, 18.6, 18.6, 18.8, 18.8, 18.4, 19.0, 19.4, 19.4, 19.6, 19.7, 20.1, 20.6, 19.7, 19.2, 19.0, 19.0, 18.1, 18.2];
const livingHumidity = [62.7, 62.7, 63.1, 63.1, 63.4, 63.4, 59.8, 59.1, 58.9, 58.7, 58.5, 58.5, 60.3, 61.6, 62.0, 63.1, 63.4, 63.4, 60.9, 60.2];
const bathroomTemperature = [20.3, 18.5, 18.4, 18.3, 18.1, 17.9, 19.6, 20.0, 20.2, 20.2, 20.4, 20.6, 21.0, 20.7, 20.3, 19.6, 19.3, 19.1, 20.7, 19.2];
const bathroomHumidity = [63.4, 63.4, 63.8, 64.0, 64.0, 64.4, 60.9, 60.2, 59.8, 59.4, 59.1, 59.1, 58.7, 60.9, 62.0, 63.1, 64.0, 64.5, 62.7, 64.5];
const kitchenTemperature = [17.9, 17.9, 17.8, 17.7, 17.6, 17.4, 18.8, 19.2, 19.6, 19.6, 20.0, 20.0, 21.0, 20.7, 19.9, 19.2, 19.0, 18.7, 19.7, 20.0];
const kitchenHumidity = [61.8, 62.0, 62.4, 62.5, 62.9, 63.3, 61.3, 60.2, 59.6, 59.1, 58.5, 58.9, 61.1, 60.3, 61.1, 62.4, 63.3, 63.3, 60.5, 60.3];

const NS = 'http://www.w3.org/2000/svg';
function mk(parent, tag, attrs, txt) {
  const el = document.createElementNS(NS, tag);
  for (const k in attrs) el.setAttribute(k, attrs[k]);
  if (txt !== undefined) el.textContent = txt;
  parent.appendChild(el);
  return el;
}

/* Donut */
(function () {
  const g = document.getElementById('donut-layer');
  const cx = 1516.5, cy = 527.7, R = 105, r = 68.5;
  const total = donutValues.reduce(function (a, b) { return a + b; }, 0);
  const angleOf = function (v) { return v / total * 2 * Math.PI; };
  const legendDotX = [1434.8, 1507, 1560];
  const legendTextX = [1443.5, 1515.5, 1568];
  const legendTextW = [49.5, 30, 33];
  let a0 = 0;
  donutValues.forEach(function (v, i) {
    const a1 = a0 + angleOf(v);
    const big = a1 - a0 > Math.PI ? 1 : 0;
    const p = function (rad, a) { return (cx + rad * Math.sin(a)).toFixed(2) + ' ' + (cy - rad * Math.cos(a)).toFixed(2); };
    const d = 'M' + p(R, a0) + 'A' + R + ' ' + R + ' 0 ' + big + ' 1 ' + p(R, a1) + 'L' + p(r, a1) + 'A' + r + ' ' + r + ' 0 ' + big + ' 0 ' + p(r, a0) + 'Z';
    const seg = mk(g, 'path', { d: d, fill: donutColors[i], stroke: '#fff', 'stroke-width': 1.5 });
    
    
    const m = (a0 + a1) / 2, lr = (R + r) / 2;
    const lab = mk(g, 'text', { x: cx + lr * Math.sin(m), y: cy - lr * Math.cos(m) + 4, 'text-anchor': 'middle', style: 'font-size:12.5px;font-weight:700;fill:#fff;stroke:#222;stroke-width:1.4px;paint-order:stroke;stroke-opacity:.7' }, v.toFixed(1) + '%');
    
    
    const dot = mk(g, 'circle', { cx: legendDotX[i], cy: 399.5, r: 5.3, fill: donutColors[i] });
    
    
    const lt = mk(g, 'text', { x: legendTextX[i], y: 404, textLength: legendTextW[i], class: 't-ax' }, donutLabels[i]);
    
    
    a0 = a1;
  });
})();

/* Occupancy stacked bars */
(function () {
  const g = document.getElementById('occupancy-layer');
  const xOf = function (v) { return 1825.3 + v * 3.277; };
  const bandTop = function (i) { return 433.3 + i * 37.75; };
  const bandH = 37.75, barH = 25;
  const colors = { bedroom: '#008ffb', kitchen: '#00e396', bathroom: '#feb019', unallocated: '#ff4560', living: '#775dd0' };
  const stack = [
    [occupancyLivingFirst, colors.living],
    [occupancyBedroom, colors.bedroom],
    [occupancyKitchen, colors.kitchen],
    [occupancyBathroom, colors.bathroom],
    [occupancyUnallocated, colors.unallocated],
    [occupancyLivingRoom, colors.living]
  ];
  const legendNames = ['Bedroom', 'Kitchen', 'Bathroom', 'unallocated', 'Living Room'];
  const legendColors = [colors.bedroom, colors.kitchen, colors.bathroom, colors.unallocated, colors.living];
  const legendSwatchX = [1818, 1885, 1944, 2015, 1818];
  const legendTextX = [1832, 1899, 1958.5, 2028, 1832];
  const legendTextW = [44, 36, 46.5, 55.5, 61];
  const legendRowY = [373, 373, 373, 373, 392.7];
  legendNames.forEach(function (n, i) {
    const s = mk(g, 'rect', { x: legendSwatchX[i], y: legendRowY[i], width: 11.5, height: 11.5, rx: 2, fill: legendColors[i] });
    
    
    const t = mk(g, 'text', { x: legendTextX[i], y: legendRowY[i] + 11, textLength: legendTextW[i], class: 't-ax' }, n);
    
    
  });
  for (let i = 0; i <= occupancyDays.length; i++) {
    const gl = mk(g, 'rect', { x: 1825.3, y: bandTop(i) - 0.7, width: 327, height: 1.5, fill: '#efefef' });
    
    
  }
  for (let t = 0; t <= 100; t += 20) {
    const tk = mk(g, 'line', { x1: xOf(t), x2: xOf(t), y1: 585, y2: 591, stroke: '#e2e2e2', 'stroke-width': 1 });
    
    
  }
  occupancyDays.forEach(function (d, i) {
    const y0 = bandTop(i) + (bandH - barH) / 2;
    let acc = 0;
    stack.forEach(function (s) {
      const v = s[0][i];
      if (!v) return;
      const b = mk(g, 'rect', { x: xOf(acc), y: y0, width: xOf(acc + v) - xOf(acc), height: barH, fill: s[1], stroke: '#fff', 'stroke-width': 0.8 });
      
      
      acc += v;
    });
    const t = mk(g, 'text', { x: 1761.7, y: y0 + 14, textLength: 50, class: 't-ax' }, d);
    
    
  });
})();

/* Timeline */
(function () {
  const g = document.getElementById('timeline-layer');
  const xOf = function (h) { return 1958.3 + (h - 11) * 46.67; };
  const bandTop = function (i) { return 952.7 + i * 64.45; };
  const left = 1921.7, right = 2246;
  const starts = [kitchenStarts, livingStarts, bedroomStarts];
  const ends = [kitchenEnds, livingEnds, bedroomEnds];
  const labelW = [33, 51.5, 40.5];
  for (let i = 0; i <= timelineRooms.length; i++) {
    const gl = mk(g, 'rect', { x: left, y: bandTop(i) - 0.7, width: right - left, height: 1.5, fill: '#efefef' });
    
    
  }
  const ax = mk(g, 'rect', { x: left - 0.7, y: bandTop(0), width: 1.4, height: bandTop(3) - bandTop(0), fill: '#efefef' });
  
  
  timelineRooms.forEach(function (room, i) {
    const center = bandTop(i) + 32.2;
    const yBar = center + (i - 1) * 15 - 7.5;
    starts[i].forEach(function (s, j) {
      const b = mk(g, 'rect', { x: xOf(s), y: yBar, width: Math.max(xOf(ends[i][j]) - xOf(s), 0.4), height: 15, fill: '#ffd700' });
      
      
    });
    const t = mk(g, 'text', { x: 1908.5 - labelW[i], y: center + 2.5, textLength: labelW[i], class: 't-ax' }, room);
    
    
  });
  timelineTicks.forEach(function (lab) {
    const h = parseInt(lab, 10);
    const tk = mk(g, 'line', { x1: xOf(h), x2: xOf(h), y1: 1146.7, y2: 1151.7, stroke: '#e2e2e2', 'stroke-width': 1 });
    
    
    const t = mk(g, 'text', { x: xOf(h) - 12.5, y: 1165, textLength: 25.5, class: 't-ax' }, lab);
    
    
  });
})();

/* Environmental line chart */
(function () {
  const g = document.getElementById('env-layer');
  const xOf = function (h) { return 2350.6 + h * 14.53; };
  const yTemp = function (t) { return 1135 - t * 6.077; };
  const yHum = function (h) { return 1135 - h * 1.8231; };
  const left = 2351.3, right = 2620;
  tempTicks.forEach(function (lab, i) {
    const y = yTemp(parseFloat(lab));
    const gl = mk(g, 'rect', { x: left, y: y - 0.7, width: right - left, height: 1.4, fill: '#efefef' });
    
    
    const w = lab.length > 3 ? 19.3 : 14;
    const t = mk(g, 'text', { x: 2342.3 - w, y: y + 3, textLength: w, class: 't-ax' }, lab);
    
    
    const hl = humidityTicks[i];
    const w2 = hl.length > 4 ? 24.5 : (hl.length > 3 ? 19.3 : 14);
    const t2 = mk(g, 'text', { x: 2630, y: y + 3, textLength: w2, class: 't-ax' }, hl);
    
    
  });
  envTimeTicks.forEach(function (lab) {
    const h = parseInt(lab, 10);
    const tk = mk(g, 'line', { x1: xOf(h), x2: xOf(h), y1: 1135.5, y2: 1141, stroke: '#e2e2e2', 'stroke-width': 1 });
    
    
    const t = mk(g, 'text', { x: xOf(h) - 13.5, y: 1157, textLength: 27, class: 't-ax' }, lab);
    
    
  });
  const series = [
    ['Bedroom - Temperature', bedroomTemperature, yTemp, '#008ffb'],
    ['Bedroom - Humidity', bedroomHumidity, yHum, '#00e396'],
    ['Living room - Temperature', livingTemperature, yTemp, '#feb019'],
    ['Living room - Humidity', livingHumidity, yHum, '#ff4560'],
    ['Bathroom - Temperature', bathroomTemperature, yTemp, '#775dd0'],
    ['Bathroom - Humidity', bathroomHumidity, yHum, '#008ffb'],
    ['Kitchen - Temperature', kitchenTemperature, yTemp, '#00e396'],
    ['Kitchen - Humidity', kitchenHumidity, yHum, '#feb019']
  ];
  const drawOrder = [0, 2, 4, 6, 1, 3, 5, 7];
  const clipEl = mk(g, 'clipPath', { id: 'env-clip' });
  mk(clipEl, 'rect', { x: left, y: 940, width: right - left, height: 200 });
  drawOrder.forEach(function (k) {
    const s = series[k];
    const pts = envHours.map(function (h, i) { return xOf(h).toFixed(1) + ',' + s[2](s[1][i]).toFixed(1); }).join(' ');
    const p = mk(g, 'polyline', { points: pts, fill: 'none', stroke: s[3], 'stroke-width': 4.2, 'stroke-linejoin': 'round', 'clip-path': 'url(#env-clip)' });
    
    
  });
  const ty = mk(g, 'text', { transform: 'translate(2313.5 1086) rotate(-90)', x: 0, y: 0, textLength: 92, class: 't-axb' }, 'Temperature (°C)');
  
  
  const hy = mk(g, 'text', { transform: 'translate(2665.5 1006) rotate(90)', x: 0, y: 0, textLength: 67, class: 't-axb' }, 'Humidity (%)');
  
  
  const tx = mk(g, 'text', { x: 2471.7, y: 1173.5, textLength: 28.5, class: 't-axb' }, 'Time');
  
  
  const rowY = [1189.3, 1205.3, 1221, 1238];
  const tempW = [114, 126.5, 117, 106.5];
  const humW = [95.5, 107.5, 98.5, 87.5];
  [0, 1, 2, 3].forEach(function (row) {
    const ts = series[row * 2], hs = series[row * 2 + 1];
    const textX = 2493 - tempW[row];
    const d1 = mk(g, 'circle', { cx: textX - 8.7, cy: rowY[row] - 3.8, r: 5, fill: ts[3] });
    
    
    const t1 = mk(g, 'text', { x: textX, y: rowY[row], textLength: tempW[row], class: 't-ax' }, ts[0]);
    
    
    const d2 = mk(g, 'circle', { cx: 2507.7, cy: rowY[row] - 3.8, r: 5, fill: hs[3] });
    
    
    const t2 = mk(g, 'text', { x: 2516.3, y: rowY[row], textLength: humW[row], class: 't-ax' }, hs[0]);
    
    
  });
})();

document.querySelectorAll('text[textLength]').forEach(function (t) {
  t.setAttribute('lengthAdjust', 'spacingAndGlyphs');
});
</script>
</body>
</html>
